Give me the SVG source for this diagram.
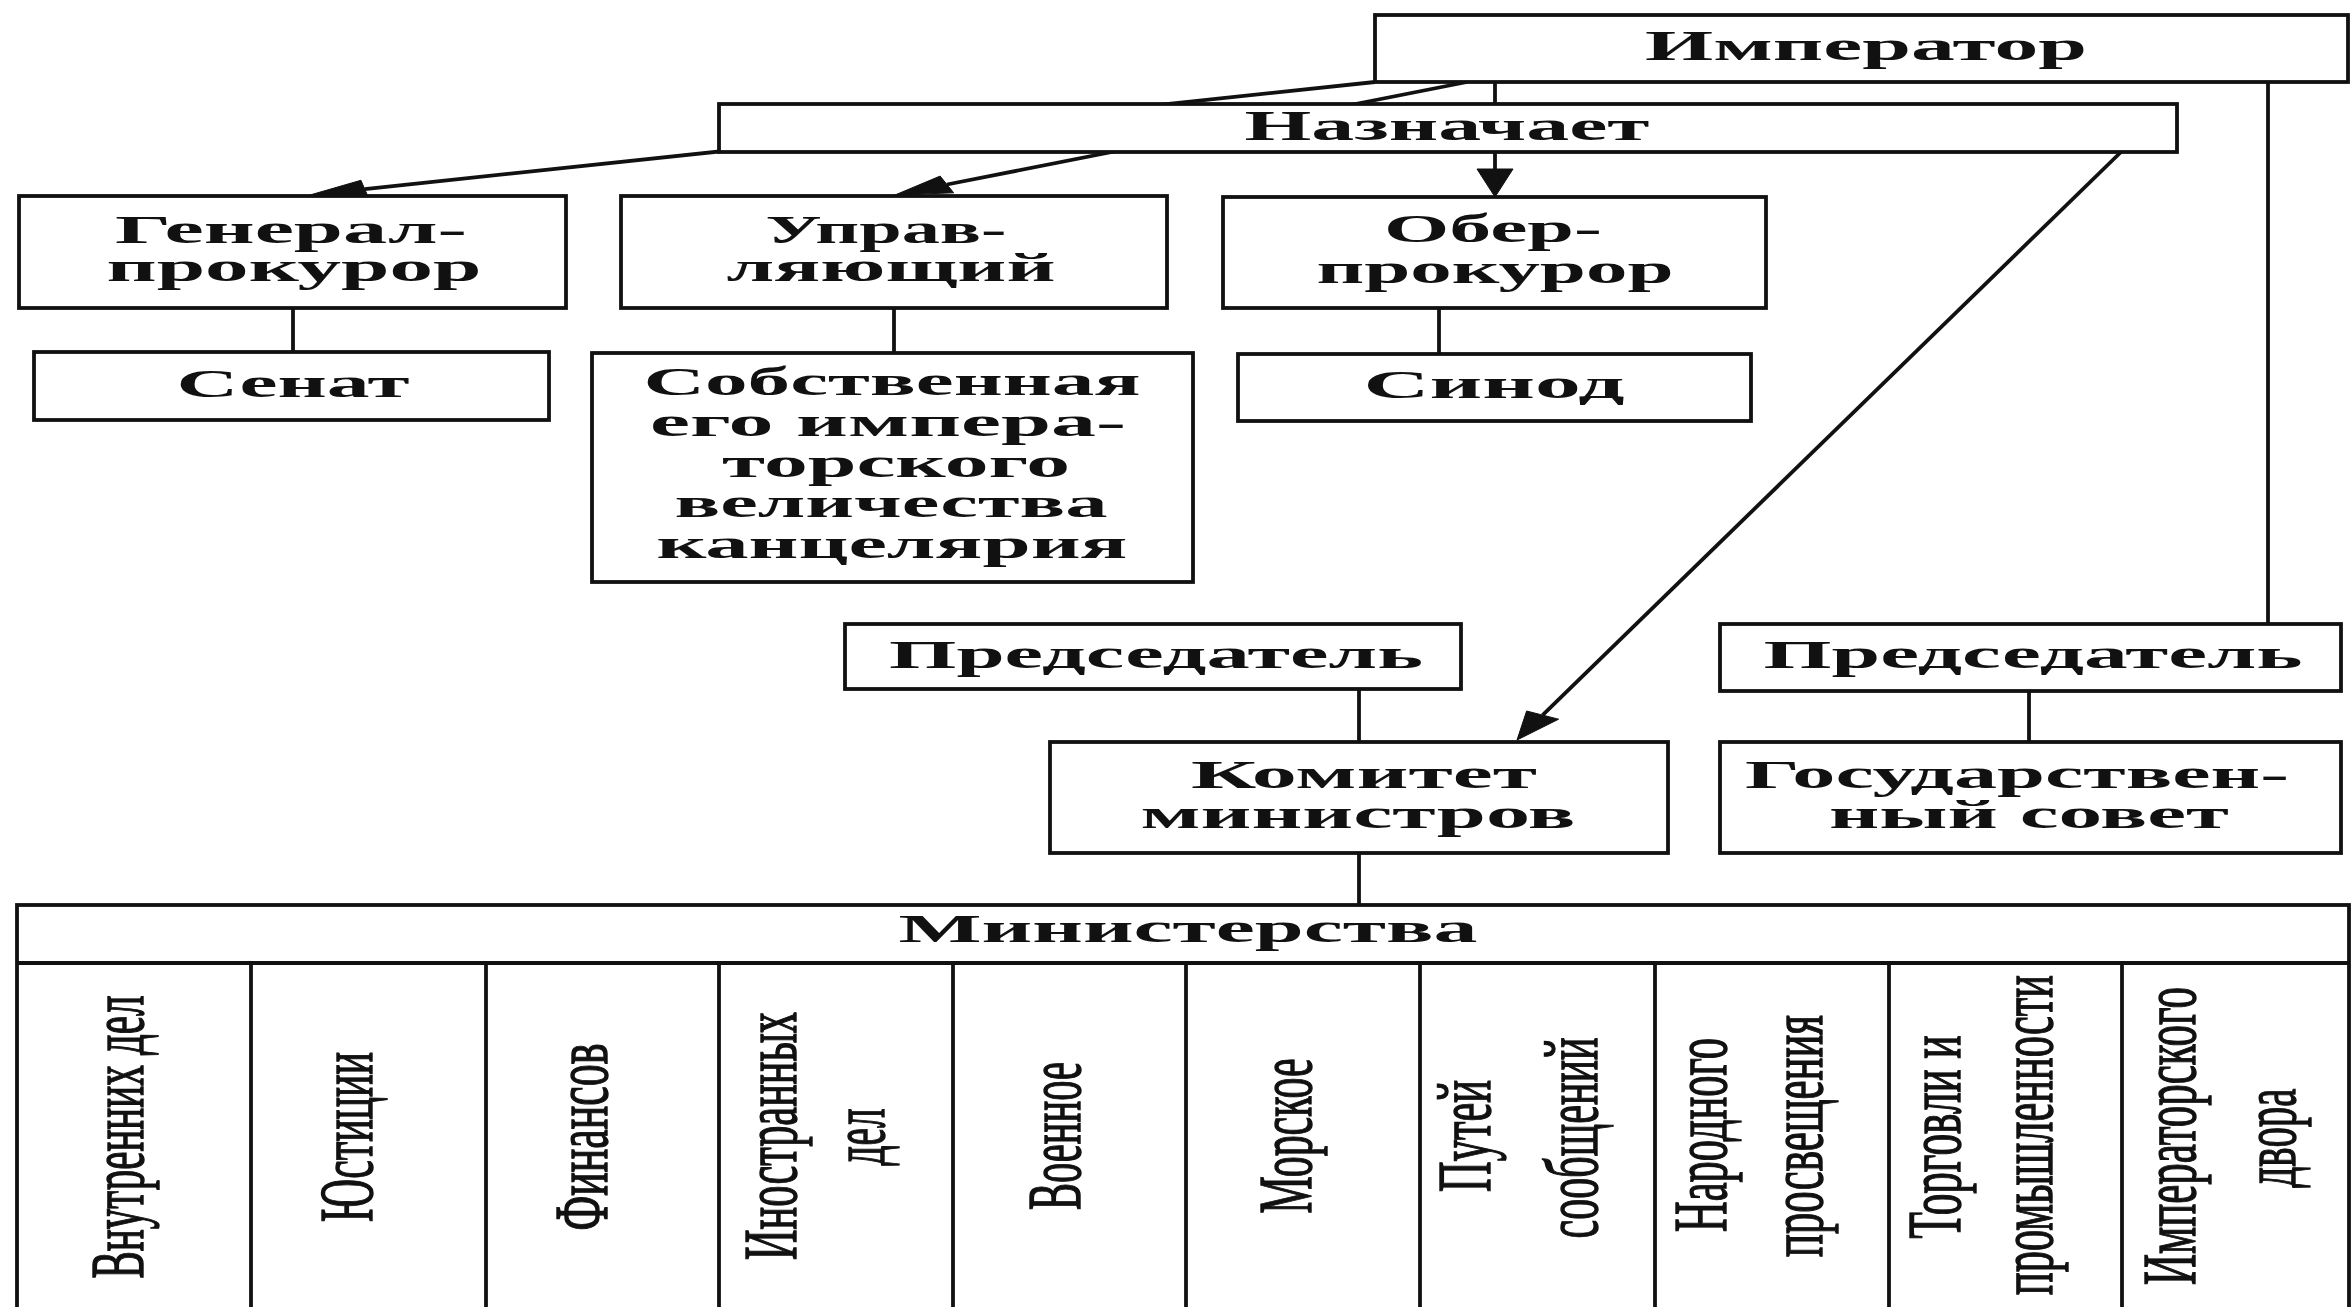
<svg xmlns="http://www.w3.org/2000/svg" width="2351" height="1307" viewBox="0 0 2351 1307">
<style>
.bg{fill:#ffffff}
.box{fill:#ffffff;stroke:#111;stroke-width:3.8}
.ln{fill:none;stroke:#111;stroke-width:3.8}
.ah{fill:#111;stroke:#111;stroke-width:1}
.t{font-family:"Liberation Serif","Times New Roman",serif;font-size:39px;font-weight:bold;fill:#111;text-anchor:middle}
.tb{font-size:42px}
.r{font-family:"Liberation Serif","Times New Roman",serif;font-size:42px;fill:#111;stroke:#111;stroke-width:0.8;text-anchor:middle}
</style>
<rect class="bg" x="0" y="0" width="2351" height="1307"/>
<g id="connectors">
  <line class="ln" x1="1375" y1="82" x2="364.7" y2="189.1"/>
  <polygon class="ah" points="310,195 360.9,180.3 368.6,197.9"/>
  <line class="ln" x1="1467" y1="82" x2="946.9" y2="184.5"/>
  <polygon class="ah" points="895,195 940.1,176.1 953.7,192.8"/>
  <line class="ln" x1="1495" y1="82" x2="1495" y2="172"/>
  <polygon class="ah" points="1495,197 1477,169 1513,169"/>
  <line class="ln" x1="2121" y1="152" x2="1542.6" y2="715.1"/>
  <polygon class="ah" points="1517,740 1526.6,711 1558.6,719.2"/>
  <line class="ln" x1="2268" y1="82" x2="2268" y2="624"/>
  <line class="ln" x1="293" y1="308" x2="293" y2="352"/>
  <line class="ln" x1="894" y1="308" x2="894" y2="353"/>
  <line class="ln" x1="1439" y1="308" x2="1439" y2="354"/>
  <line class="ln" x1="1359" y1="689" x2="1359" y2="742"/>
  <line class="ln" x1="1359" y1="853" x2="1359" y2="905"/>
  <line class="ln" x1="2029" y1="691" x2="2029" y2="742"/>
</g>
<g id="imperator">
  <rect class="box" x="1375" y="15" width="973" height="67"/>
  <text class="t tb" x="1866" y="60" textLength="442" lengthAdjust="spacingAndGlyphs">Император</text>
</g>
<g id="naznachaet">
  <rect class="box" x="719" y="104" width="1458" height="48"/>
  <text class="t tb" x="1447" y="140" textLength="405" lengthAdjust="spacingAndGlyphs">Назначает</text>
</g>
<g id="general-prokuror">
  <rect class="box" x="19" y="196" width="547" height="112"/>
  <text class="t" x="291" y="243" textLength="352" lengthAdjust="spacingAndGlyphs">Генерал-</text>
  <text class="t" x="294" y="281" textLength="375" lengthAdjust="spacingAndGlyphs">прокурор</text>
</g>
<g id="upravlyayushchiy">
  <rect class="box" x="621" y="196" width="546" height="112"/>
  <text class="t" x="886" y="243" textLength="241" lengthAdjust="spacingAndGlyphs">Управ-</text>
  <text class="t" x="891" y="281" textLength="329" lengthAdjust="spacingAndGlyphs">ляющий</text>
</g>
<g id="ober-prokuror">
  <rect class="box" x="1223" y="197" width="543" height="111"/>
  <text class="t" x="1493" y="242" textLength="218" lengthAdjust="spacingAndGlyphs">Обер-</text>
  <text class="t" x="1495" y="283" textLength="357" lengthAdjust="spacingAndGlyphs">прокурор</text>
</g>
<g id="senat">
  <rect class="box" x="34" y="352" width="515" height="68"/>
  <text class="t" x="293" y="397" textLength="233" lengthAdjust="spacingAndGlyphs">Сенат</text>
</g>
<g id="kantselyariya">
  <rect class="box" x="592" y="353" width="601" height="229"/>
  <text class="t" x="892" y="395" textLength="497" lengthAdjust="spacingAndGlyphs">Собственная</text>
  <text class="t" x="888" y="436" textLength="476" lengthAdjust="spacingAndGlyphs">его импера-</text>
  <text class="t" x="896" y="477" textLength="348" lengthAdjust="spacingAndGlyphs">торского</text>
  <text class="t" x="891" y="517" textLength="433" lengthAdjust="spacingAndGlyphs">величества</text>
  <text class="t" x="892" y="558" textLength="471" lengthAdjust="spacingAndGlyphs">канцелярия</text>
</g>
<g id="sinod">
  <rect class="box" x="1238" y="354" width="513" height="67"/>
  <text class="t" x="1494" y="398" textLength="261" lengthAdjust="spacingAndGlyphs">Синод</text>
</g>
<g id="predsedatel-1">
  <rect class="box" x="845" y="624" width="616" height="65"/>
  <text class="t" x="1156" y="668" textLength="534" lengthAdjust="spacingAndGlyphs">Председатель</text>
</g>
<g id="predsedatel-2">
  <rect class="box" x="1720" y="624" width="621" height="67"/>
  <text class="t" x="2033" y="668" textLength="539" lengthAdjust="spacingAndGlyphs">Председатель</text>
</g>
<g id="komitet">
  <rect class="box" x="1050" y="742" width="618" height="111"/>
  <text class="t" x="1364" y="788" textLength="346" lengthAdjust="spacingAndGlyphs">Комитет</text>
  <text class="t" x="1358" y="828" textLength="435" lengthAdjust="spacingAndGlyphs">министров</text>
</g>
<g id="gossovet">
  <rect class="box" x="1720" y="742" width="621" height="111"/>
  <text class="t" x="2017" y="788" textLength="544" lengthAdjust="spacingAndGlyphs">Государствен-</text>
  <text class="t" x="2029" y="828" textLength="400" lengthAdjust="spacingAndGlyphs">ный совет</text>
</g>
<g id="ministerstva">
  <rect class="box" x="17" y="905" width="2332" height="430"/>
  <line class="ln" x1="17" y1="963" x2="2349" y2="963"/>
  <text class="t" x="1188" y="942" textLength="579" lengthAdjust="spacingAndGlyphs">Министерства</text>
  <line class="ln" x1="251" y1="963" x2="251" y2="1320"/>
  <line class="ln" x1="486" y1="963" x2="486" y2="1320"/>
  <line class="ln" x1="719" y1="963" x2="719" y2="1320"/>
  <line class="ln" x1="953" y1="963" x2="953" y2="1320"/>
  <line class="ln" x1="1186" y1="963" x2="1186" y2="1320"/>
  <line class="ln" x1="1420" y1="963" x2="1420" y2="1320"/>
  <line class="ln" x1="1655" y1="963" x2="1655" y2="1320"/>
  <line class="ln" x1="1889" y1="963" x2="1889" y2="1320"/>
  <line class="ln" x1="2122" y1="963" x2="2122" y2="1320"/>
</g>
<g id="min-vnutrennikh-del">
  <text class="r" transform="translate(143,1137) scale(1.8,1) rotate(-90)" textLength="283" lengthAdjust="spacingAndGlyphs">Внутренних дел</text>
</g>
<g id="min-yustitsii">
  <text class="r" transform="translate(372,1137) scale(1.8,1) rotate(-90)" textLength="170" lengthAdjust="spacingAndGlyphs">Юстиции</text>
</g>
<g id="min-finansov">
  <text class="r" transform="translate(607,1137) scale(1.8,1) rotate(-90)" textLength="187" lengthAdjust="spacingAndGlyphs">Финансов</text>
</g>
<g id="min-inostrannykh-del">
  <text class="r" transform="translate(796,1136) scale(1.8,1) rotate(-90)" textLength="248" lengthAdjust="spacingAndGlyphs">Иностранных</text>
  <text class="r" transform="translate(884,1137) scale(1.8,1) rotate(-90)" textLength="57" lengthAdjust="spacingAndGlyphs">дел</text>
</g>
<g id="min-voennoe">
  <text class="r" transform="translate(1080,1136) scale(1.8,1) rotate(-90)" textLength="148" lengthAdjust="spacingAndGlyphs">Военное</text>
</g>
<g id="min-morskoe">
  <text class="r" transform="translate(1311,1136) scale(1.8,1) rotate(-90)" textLength="155" lengthAdjust="spacingAndGlyphs">Морское</text>
</g>
<g id="min-putey">
  <text class="r" transform="translate(1490,1136) scale(1.8,1) rotate(-90)" textLength="112" lengthAdjust="spacingAndGlyphs">Путей</text>
  <text class="r" transform="translate(1597,1138) scale(1.8,1) rotate(-90)" textLength="201" lengthAdjust="spacingAndGlyphs">сообщений</text>
</g>
<g id="min-prosveshcheniya">
  <text class="r" transform="translate(1726,1135) scale(1.8,1) rotate(-90)" textLength="194" lengthAdjust="spacingAndGlyphs">Народного</text>
  <text class="r" transform="translate(1822,1136) scale(1.8,1) rotate(-90)" textLength="242" lengthAdjust="spacingAndGlyphs">просвещения</text>
</g>
<g id="min-torgovli">
  <text class="r" transform="translate(1960,1137) scale(1.8,1) rotate(-90)" textLength="203" lengthAdjust="spacingAndGlyphs">Торговли и</text>
  <text class="r" transform="translate(2052,1135) scale(1.8,1) rotate(-90)" textLength="320" lengthAdjust="spacingAndGlyphs">промышленности</text>
</g>
<g id="min-dvora">
  <text class="r" transform="translate(2195,1136) scale(1.8,1) rotate(-90)" textLength="298" lengthAdjust="spacingAndGlyphs">Императорского</text>
  <text class="r" transform="translate(2295,1138) scale(1.8,1) rotate(-90)" textLength="99" lengthAdjust="spacingAndGlyphs">двора</text>
</g>
</svg>
